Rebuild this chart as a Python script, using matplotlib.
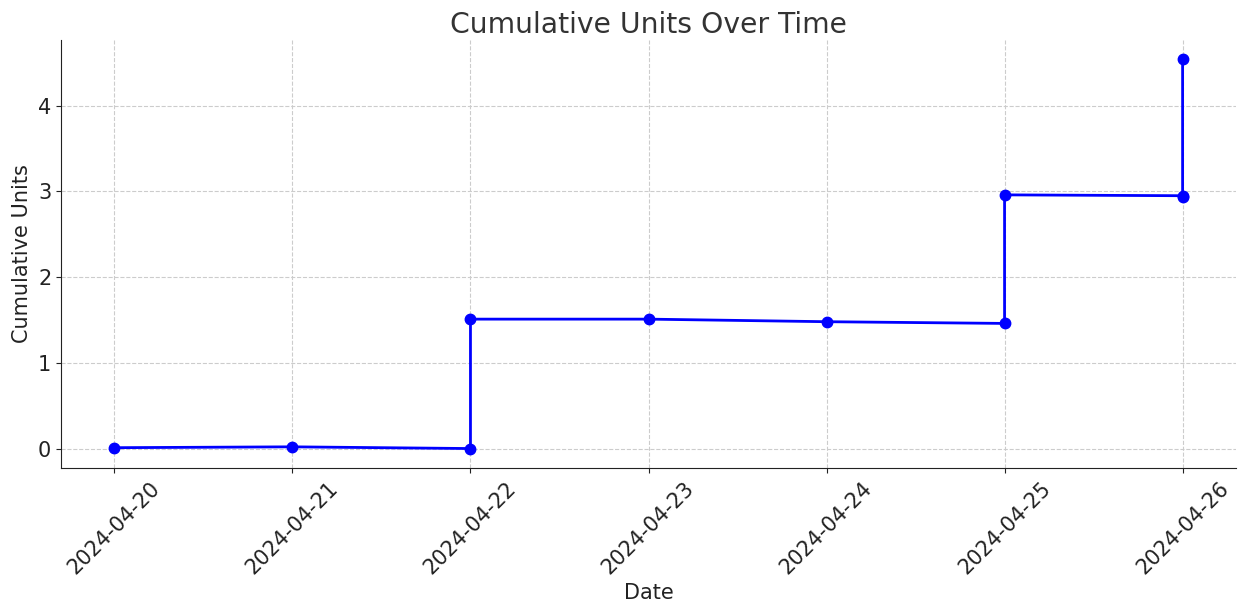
import matplotlib
matplotlib.use("Agg")
import matplotlib.pyplot as plt
import matplotlib.dates as mdates
import pandas as pd

dates = ["2024-04-20", "2024-04-21", "2024-04-22", "2024-04-22", "2024-04-23",
         "2024-04-24", "2024-04-25", "2024-04-25", "2024-04-26", "2024-04-26",
         "2024-04-26"]
cumulative_units = [0.01, 0.02, 0.0, 1.51, 1.51, 1.48, 1.46, 2.96, 2.95, 2.93, 4.54]

x = pd.to_datetime(dates)

text_color = "#333333"
tick_color = "#222222"
plt.rcParams["font.family"] = ["DejaVu Sans"]

fig = plt.figure(figsize=(12.39, 6.09), dpi=100)
ax = fig.add_axes([61/1239, 1-468/609, (1236-61)/1239, (468-40)/609])

ax.plot(x, cumulative_units, color="#0000ff", marker="o", linewidth=2, markersize=7.5)

ax.set_title("Cumulative Units Over Time", fontsize=20.3, color=text_color, pad=5)
ax.set_xlabel("Date", fontsize=15, color=tick_color)
ax.set_ylabel("Cumulative Units", fontsize=15, color=tick_color)

ax.xaxis.set_major_locator(mdates.DayLocator())
ax.xaxis.set_major_formatter(mdates.DateFormatter("%Y-%m-%d"))
ax.tick_params(axis="both", labelsize=15, labelcolor=tick_color, color=tick_color)
plt.setp(ax.get_xticklabels(), rotation=45, ha="center")

ax.grid(True, linestyle="--", color="#cccccc", linewidth=0.8)
ax.spines["top"].set_visible(False)
ax.spines["right"].set_visible(False)
ax.spines["left"].set_color(tick_color)
ax.spines["bottom"].set_color(tick_color)

fig.savefig("out.png", dpi=100)
